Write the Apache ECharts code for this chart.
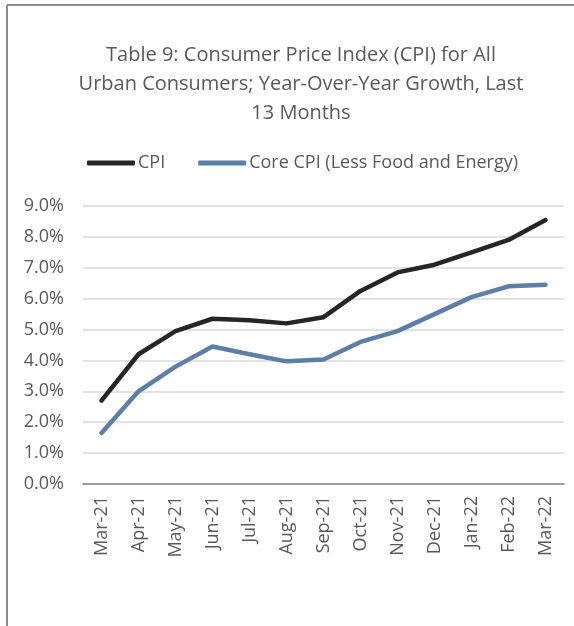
<!DOCTYPE html>
<html>
<head>
<meta charset="utf-8">
<script src="https://cdn.jsdelivr.net/npm/echarts@6/dist/echarts.min.js"></script>
<style>
  html, body { margin: 0; padding: 0; background: #fff; }
  #chart { width: 574px; height: 626px; }
</style>
</head>
<body>
<div id="chart"></div>
<script>
var months = ['Mar-21', 'Apr-21', 'May-21', 'Jun-21', 'Jul-21', 'Aug-21', 'Sep-21',
    'Oct-21', 'Nov-21', 'Dec-21', 'Jan-22', 'Feb-22', 'Mar-22'];
var cpi = [2.7, 4.2, 4.95, 5.35, 5.3, 5.2, 5.4, 6.25, 6.85, 7.1, 7.5, 7.9, 8.55];
var coreCpi = [1.65, 3.0, 3.8, 4.45, 4.2, 3.97, 4.03, 4.6, 4.95, 5.5, 6.05, 6.4, 6.45];

var textColor = '#595959';
var font = 'Open Sans';

var myChart = echarts.init(document.getElementById('chart'));
var option = {
    backgroundColor: '#fff',
    animation: false,
    title: {
        text: 'Table 9: Consumer Price Index (CPI) for All\nUrban Consumers; Year-Over-Year Growth, Last\n13 Months',
        left: 296,
        textAlign: 'center',
        top: 36,
        textStyle: {
            color: textColor,
            fontFamily: font,
            fontSize: 20,
            fontWeight: 'normal',
            lineHeight: 29
        }
    },
    legend: {
        top: 149,
        left: 82,
        icon: 'roundRect',
        itemWidth: 48,
        itemHeight: 5,
        itemGap: 33,
        textStyle: {
            color: textColor,
            fontFamily: font,
            fontSize: 18,
            padding: [0, 0, 0, -2]
        },
        data: ['CPI', 'Core CPI (Less Food and Energy)']
    },
    grid: {
        left: 83,
        right: 10,
        top: 206,
        bottom: 142
    },
    xAxis: {
        type: 'category',
        data: months,
        boundaryGap: true,
        axisLine: { lineStyle: { color: '#868686', width: 1.5 } },
        axisTick: { show: false },
        axisLabel: {
            rotate: 90,
            margin: 12,
            color: textColor,
            fontFamily: font,
            fontSize: 18
        }
    },
    yAxis: {
        type: 'value',
        min: 0,
        max: 9,
        interval: 1,
        axisLine: { show: false },
        axisTick: { show: false },
        splitLine: { lineStyle: { color: '#d9d9d9', width: 1.5 } },
        axisLabel: {
            margin: 19,
            color: textColor,
            fontFamily: font,
            fontSize: 18,
            formatter: function (v) { return v.toFixed(1) + '%'; }
        }
    },
    series: [
        {
            name: 'CPI',
            type: 'line',
            data: cpi,
            symbol: 'none',
            color: '#262626',
            lineStyle: { width: 4.5, color: '#262626', cap: 'round', join: 'round' }
        },
        {
            name: 'Core CPI (Less Food and Energy)',
            type: 'line',
            data: coreCpi,
            symbol: 'none',
            color: '#5b7fa6',
            lineStyle: { width: 4.5, color: '#5b7fa6', cap: 'round', join: 'round' }
        }
    ],
    graphic: [
        { type: 'line', shape: { x1: 7, y1: 5, x2: 574, y2: 5 }, style: { stroke: '#8c8c8c', lineWidth: 2 } },
        { type: 'line', shape: { x1: 7, y1: 5, x2: 7, y2: 626 }, style: { stroke: '#8c8c8c', lineWidth: 2 } }
    ]
};

option && myChart.setOption(option);
window.addEventListener('resize', myChart.resize);
</script>
</body>
</html>
